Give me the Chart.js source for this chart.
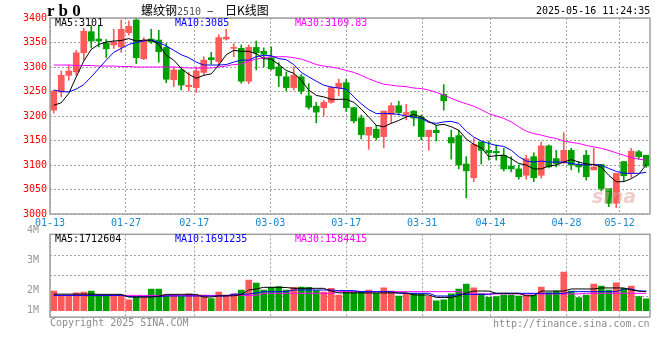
<!DOCTYPE html>
<html><head><meta charset="utf-8">
<script src="https://cdn.jsdelivr.net/npm/chart.js@4.4.0/dist/chart.umd.min.js"></script>
<style>
html,body{margin:0;padding:0;background:#fff;}
#wrap{position:relative;width:660px;height:360px;overflow:hidden;background:#fff;}
canvas{position:absolute;left:0;}
.t{position:absolute;white-space:nowrap;font-family:"DejaVu Sans Mono",monospace;font-size:10px;line-height:12px;}
</style></head><body>
<div id="wrap">
<canvas id="pc" width="660" height="230" style="top:0px"></canvas>
<canvas id="vc" width="660" height="140" style="top:220px"></canvas>
<div class="t" style="left:47px;top:2px;font-family:'Liberation Serif',serif;font-weight:bold;font-size:17px;line-height:18px;">r b 0</div>
<div class="t" style="left:141px;top:3px;font-family:'Noto Sans CJK SC',sans-serif;font-size:12px;line-height:14px;">螺纹钢<span style="font-family:'DejaVu Sans Mono',monospace;font-size:10px;color:#555;">2510</span></div>
<div class="t" style="left:207px;top:3px;font-family:'Noto Sans CJK SC',sans-serif;font-size:12px;line-height:14px;">–</div>
<div class="t" style="left:225px;top:3px;font-family:'Noto Sans CJK SC',sans-serif;font-size:12px;line-height:14px;">日K线图</div>
<div class="t" style="left:536px;top:5px;color:#000;">2025-05-16 11:24:35</div>
<div class="t" id="lg1" style="left:55px;top:17px;color:#000;"></div>
<div class="t" id="lg2" style="left:175px;top:17px;color:#0000ff;"></div>
<div class="t" id="lg3" style="left:295px;top:17px;color:#ff00ff;"></div>
<div class="t" id="vg1" style="left:55px;top:233px;color:#000;"></div>
<div class="t" id="vg2" style="left:175px;top:233px;color:#0000ff;"></div>
<div class="t" id="vg3" style="left:295px;top:233px;color:#ff00ff;"></div>
<div class="t" style="left:50px;top:317px;color:#8c8c8c;">Copyright 2025 SINA.COM</div>
<div class="t" style="left:493px;top:318px;color:#8c8c8c;">http://finance.sina.com.cn</div>
<div class="t" style="left:592px;top:186px;font-family:'DejaVu Sans',sans-serif;font-style:italic;font-weight:bold;font-size:19px;line-height:20px;color:rgba(225,160,160,0.55);">sina</div>
</div>
<script>
// ---------- data ----------
const dates = ['01-13','01-14','01-15','01-16','01-17','01-20','01-21','01-22','01-23','01-24','01-27',
'02-05','02-06','02-07','02-10','02-11','02-12','02-13','02-14','02-17','02-18','02-19','02-20','02-21','02-24','02-25','02-26','02-27','02-28',
'03-03','03-04','03-05','03-06','03-07','03-10','03-11','03-12','03-13','03-14','03-17','03-18','03-19','03-20','03-21','03-24','03-25','03-26','03-27','03-28','03-31',
'04-01','04-02','04-03','04-07','04-08','04-09','04-10','04-11','04-14','04-15','04-16','04-17','04-18','04-21','04-22','04-23','04-24','04-25','04-28','04-29','04-30',
'05-06','05-07','05-08','05-09','05-12','05-13','05-14','05-15','05-16'];
const tickDates = ['01-13','01-27','02-17','03-03','03-17','03-31','04-14','04-28','05-12'];

const open = [3212,3249,3283,3290,3329,3372,3357,3349,3345,3341,3370,3396,3317,3357,3355,3340,3274,3294,3260,3258,
3289,3319,3311,3357,3338,3338,3271,3340,3332,3319,3300,3280,3258,3280,3241,3220,3217,3228,3258,3268,
3217,3196,3161,3173,3158,3203,3221,3203,3210,3198,3158,3171,3244,3156,3160,3102,3074,3147,3130,3128,
3120,3098,3092,3079,3117,3079,3139,3113,3107,3130,3101,3120,3090,3101,3052,3022,3107,3083,3127,3120];
const close = [3251,3283,3292,3329,3373,3353,3353,3337,3351,3377,3383,3319,3354,3351,3331,3275,3294,3263,3263,3292,
3314,3315,3360,3361,3339,3271,3340,3329,3326,3296,3282,3258,3283,3251,3218,3208,3228,3258,3267,3217,
3190,3162,3177,3156,3210,3221,3207,3207,3196,3158,3171,3166,3231,3145,3100,3088,3142,3130,3125,3125,
3092,3092,3076,3113,3074,3139,3096,3103,3130,3100,3096,3076,3096,3052,3022,3083,3078,3128,3117,3098];
const high = [3252,3292,3304,3334,3379,3385,3385,3356,3377,3396,3394,3400,3360,3377,3375,3348,3300,3300,3289,3300,
3321,3330,3366,3377,3348,3345,3345,3353,3339,3341,3309,3290,3300,3285,3266,3228,3232,3260,3275,3275,
3218,3202,3177,3181,3210,3227,3230,3224,3211,3202,3171,3181,3264,3171,3171,3117,3154,3147,3149,3141,
3134,3117,3100,3120,3125,3147,3141,3130,3166,3134,3107,3130,3134,3101,3052,3083,3107,3134,3130,3120];
const low = [3206,3239,3273,3283,3314,3339,3341,3319,3338,3330,3365,3307,3315,3348,3310,3268,3260,3253,3251,3248,
3283,3306,3302,3355,3321,3267,3266,3294,3300,3294,3260,3251,3253,3245,3214,3186,3200,3226,3241,3209,
3186,3153,3132,3151,3135,3185,3202,3192,3180,3151,3130,3149,3212,3112,3092,3033,3066,3102,3110,3110,
3088,3086,3071,3071,3066,3073,3094,3096,3103,3090,3085,3069,3090,3047,3015,3013,3066,3074,3112,3095];

const ma5 = [3222,3227,3246,3280,3312,3336,3346,3351,3353,3354,3358,3353,3355,3355,3346,3324,3314,3297,3285,3277,
3283,3286,3304,3325,3334,3332,3332,3327,3317,3316,3305,3293,3287,3273,3253,3242,3239,3234,3234,3234,
3228,3214,3198,3181,3178,3185,3191,3198,3203,3198,3189,3181,3183,3178,3171,3153,3142,3135,3117,3119,
3120,3113,3103,3100,3092,3092,3098,3100,3106,3111,3106,3102,3101,3096,3079,3066,3066,3072,3081,3101];
const ma10 = [3253,3250,3249,3255,3264,3280,3297,3314,3330,3338,3346,3350,3353,3355,3350,3343,3334,3325,3319,3310,
3304,3304,3304,3305,3310,3314,3314,3321,3324,3323,3317,3315,3305,3289,3280,3271,3263,3259,3257,3255,
3239,3225,3213,3205,3205,3205,3203,3200,3198,3195,3187,3185,3188,3189,3185,3169,3157,3149,3144,3140,
3138,3130,3117,3108,3106,3108,3106,3106,3106,3103,3101,3100,3101,3100,3093,3087,3083,3083,3083,3085];
const ma30 = [3304,3304,3304,3303,3303,3303,3302,3302,3302,3301,3301,3300,3300,3300,3300,3300,3300,3299,3298,3298,
3298,3298,3300,3302,3305,3306,3312,3316,3319,3321,3321,3321,3319,3316,3311,3305,3302,3300,3297,3293,
3289,3283,3276,3270,3265,3263,3261,3260,3257,3256,3253,3248,3243,3236,3230,3225,3220,3213,3205,3200,
3195,3188,3178,3169,3164,3161,3157,3154,3149,3146,3144,3140,3137,3134,3130,3125,3120,3115,3112,3110];

const volume = [1950000,1760000,1760000,1860000,1900000,1950000,1760000,1760000,1760000,1760000,
1520000,1650000,1650000,2050000,2050000,1760000,1760000,1680000,1810000,1760000,
1760000,1580000,1900000,1760000,1810000,2000000,2480000,2340000,2000000,2130000,
2160000,2000000,2130000,2140000,2130000,1970000,1900000,2080000,1760000,1920000,
1920000,1920000,2000000,1840000,2110000,1950000,1710000,1840000,1840000,1810000,
1710000,1480000,1520000,1810000,2050000,2290000,2110000,1810000,1650000,1680000,
1760000,1760000,1710000,1760000,1760000,2140000,1870000,1950000,2870000,1950000,
1630000,1760000,2290000,2190000,2000000,2350000,2080000,2190000,1680000,1570000];
const vma5 = [1800000,1800000,1800000,1800000,1800000,1800000,1790000,1790000,1790000,1790000,
1660000,1660000,1660000,1660000,1700000,1790000,1790000,1790000,1790000,1790000,
1660000,1660000,1720000,1720000,1720000,1780000,2000000,2050000,2130000,2130000,
2130000,2120000,2080000,2080000,2080000,2080000,2080000,1950000,1860000,1860000,
1860000,1860000,1860000,1860000,1860000,1860000,1860000,1860000,1760000,1760000,
1760000,1640000,1640000,1640000,1720000,1850000,1950000,1950000,1950000,1840000,
1840000,1840000,1840000,1720000,1720000,1950000,1950000,1950000,1950000,2050000,
2050000,2050000,2050000,2100000,2100000,2100000,2100000,2000000,1950000,1920000];
const vma10 = [1740000,1740000,1740000,1740000,1740000,1740000,1740000,1740000,1740000,1740000,
1680000,1680000,1680000,1680000,1680000,1710000,1710000,1710000,1710000,1710000,
1710000,1710000,1710000,1710000,1800000,1800000,1800000,1860000,1920000,1920000,
1920000,1920000,2000000,2000000,2000000,2000000,2000000,2000000,1970000,1970000,
1970000,1920000,1920000,1920000,1920000,1920000,1840000,1840000,1840000,1840000,
1840000,1710000,1710000,1710000,1790000,1790000,1790000,1790000,1790000,1840000,
1840000,1840000,1840000,1840000,1840000,1840000,1840000,1840000,1840000,1920000,
1920000,1920000,1920000,1920000,1920000,1920000,2050000,2050000,1950000,1950000];
const vma30 = [1740000,1740000,1740000,1740000,1740000,1740000,1740000,1740000,1740000,1740000,
1740000,1740000,1740000,1740000,1740000,1740000,1740000,1740000,1740000,1740000,
1740000,1740000,1740000,1740000,1740000,1740000,1740000,1740000,1840000,1840000,
1840000,1840000,1840000,1840000,1840000,1840000,1840000,1840000,1920000,1920000,
1920000,1920000,1920000,1920000,1920000,1920000,1920000,1920000,1920000,1920000,
1920000,1920000,1920000,1920000,1920000,1810000,1810000,1810000,1810000,1810000,
1810000,1810000,1810000,1810000,1810000,1810000,1810000,1810000,1810000,1810000,
1810000,1840000,1840000,1840000,1840000,1840000,1840000,1840000,1840000,1840000];

const priceLegend = ['MA5:3101','MA10:3085','MA30:3109.83'];
const volLegend = ['MA5:1712604','MA10:1691235','MA30:1584415'];
const volTickLabels = ['1M','2M','3M','4M'];

// ---------- styles / layout constants ----------
const UP = '#ff5a5a', DOWN = '#00a000';
const GRID = '#a0a0a0';
const MONO = {family:'DejaVu Sans Mono', size:10};
const VOL_LABEL_POS = [7.7, 32.7, 68.1, 104.3];   // label placement (% of panel height)
const VOL_MIN = 690800, VOL_MAX = 4690800, VOL_BASE = 1000000;

document.getElementById('lg1').textContent = priceLegend[0];
document.getElementById('lg2').textContent = priceLegend[1];
document.getElementById('lg3').textContent = priceLegend[2];
document.getElementById('vg1').textContent = volLegend[0];
document.getElementById('vg2').textContent = volLegend[1];
document.getElementById('vg3').textContent = volLegend[2];

const candleColor = close.map((c,i) => c >= open[i] ? UP : DOWN);
const tickIdx = tickDates.map(d => dates.indexOf(d));

const frame = {
  id: 'frame',
  afterDraw(c) {
    const a = c.chartArea, x = c.ctx;
    x.save(); x.strokeStyle = '#a0a0a0'; x.lineWidth = 1.5;
    x.strokeRect(a.left, a.top, a.right - a.left, a.bottom - a.top);
    x.restore();
  }
};

function lineDs(data, color, yId, order) {
  return {type:'line', data, borderColor:color, borderWidth:1, pointRadius:0, tension:0,
          fill:false, xAxisID:'x', yAxisID:yId, order};
}
function xGrid(showLabels, h) {
  return {
    type:'linear', position:'bottom', min:0, max:dates.length - 1, offset:false, display:true,
    afterBuildTicks: s => { s.ticks = tickIdx.map(v => ({value:v})); },
    afterFit: s => { s.height = h; },
    grid:{display:true, drawOnChartArea:true, color:GRID, lineWidth:1, drawTicks:false, offset:false},
    border:{display:false, dash:[2,2]},
    ticks:{display:true, color: showLabels ? '#1a86cc' : 'rgba(0,0,0,0)', font:MONO, padding:3,
           maxRotation:0, autoSkip:false,
           callback: v => showLabels ? dates[v] : ''}
  };
}

new Chart(document.getElementById('pc'), {
  type:'bar',
  data:{labels:dates, datasets:[
    lineDs(ma5, '#000000', 'y', 0),
    lineDs(ma10, '#0000ff', 'y', 1),
    lineDs(ma30, '#ff00ff', 'y', 2),
    {type:'bar', data:open.map((o,i) => [o, close[i]]), backgroundColor:candleColor,
     barThickness:6, grouped:false, minBarLength:1, xAxisID:'x', yAxisID:'y', order:3},
    {type:'bar', data:low.map((l,i) => [l, high[i]]), backgroundColor:candleColor,
     barThickness:1, grouped:false, xAxisID:'x', yAxisID:'y', order:4}
  ]},
  options:{
    responsive:false, animation:false, devicePixelRatio:1,
    layout:{padding:{top:18, right:10, left:0, bottom:0}},
    plugins:{legend:{display:false}, tooltip:{enabled:false}},
    scales:{
      x:{type:'category', display:false, offset:true},
      xg:xGrid(true, 16),
      y:{type:'linear', position:'left', min:3000, max:3400,
         afterFit: s => { s.width = 50; },
         grid:{color:GRID, lineWidth:1, drawTicks:false},
         border:{display:false, dash:[2,2]},
         ticks:{stepSize:50, color:'#ff0000', font:MONO, padding:3, callback: v => String(v)}}
    }
  },
  plugins:[frame]
});

new Chart(document.getElementById('vc'), {
  type:'bar',
  data:{labels:dates, datasets:[
    lineDs(vma5, '#000000', 'yv', 0),
    lineDs(vma10, '#0000ff', 'yv', 1),
    lineDs(vma30, '#ff00ff', 'yv', 2),
    {type:'bar', data:volume, backgroundColor:candleColor, barThickness:6, grouped:false,
     base:VOL_BASE, xAxisID:'x', yAxisID:'yv', order:3}
  ]},
  options:{
    responsive:false, animation:false, devicePixelRatio:1,
    layout:{padding:{top:14.3, right:10, left:0, bottom:41.9}},
    plugins:{legend:{display:false}, tooltip:{enabled:false}},
    scales:{
      x:{type:'category', display:false, offset:true},
      xg:xGrid(false, 1),
      yv:{type:'linear', display:false, min:VOL_MIN, max:VOL_MAX},
      yvg:{type:'linear', position:'left', min:0, max:4,
           afterFit: s => { s.width = 0; },
           grid:{color:GRID, lineWidth:1, drawTicks:false},
           border:{display:false, dash:[2,2]},
           ticks:{display:false, stepSize:1}},
      yvl:{type:'linear', position:'left', min:0, max:100,
           afterFit: s => { s.width = 50; },
           afterBuildTicks: s => { s.ticks = VOL_LABEL_POS.map(v => ({value:v})); },
           grid:{display:false}, border:{display:false},
           ticks:{color:'#999999', font:MONO, padding:3, autoSkip:false,
                  callback:(v, i) => volTickLabels[i]}}
    }
  },
  plugins:[frame]
});
</script>
</body></html>
